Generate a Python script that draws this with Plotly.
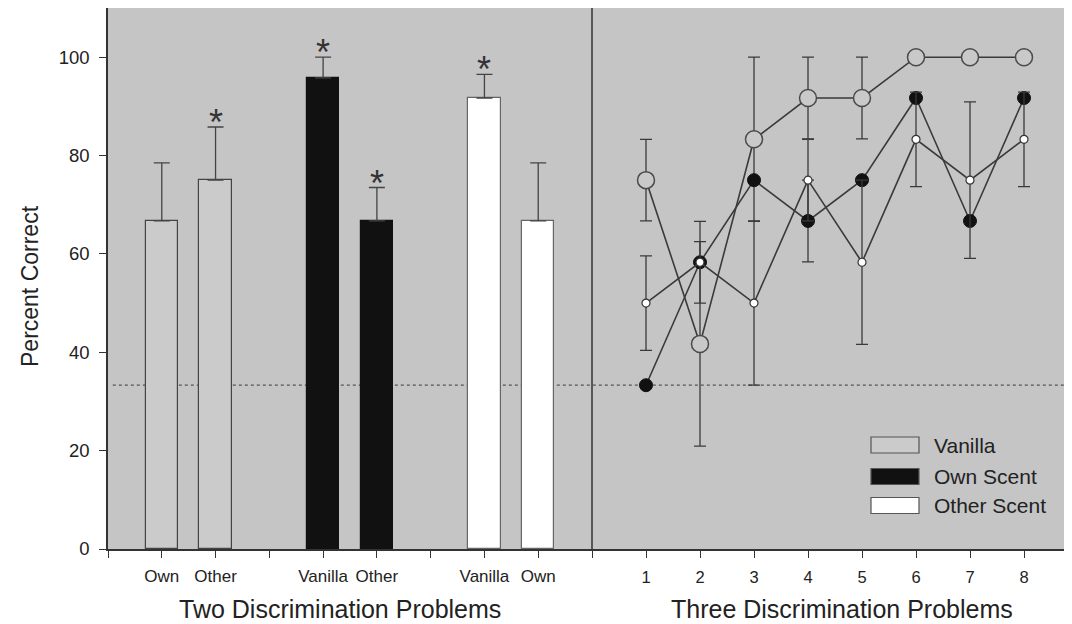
import plotly.graph_objects as go

# ---------------- data ----------------
# Left panel: two discrimination problems (bars)
bar_pos = [1, 2, 4, 5, 7, 8]
bar_labels = ["Own", "Other", "Vanilla", "Other", "Vanilla", "Own"]
bar_group = ["Vanilla", "Vanilla", "Own Scent", "Own Scent", "Other Scent", "Other Scent"]
bar_values = [66.7, 75.0, 95.8, 66.7, 91.7, 66.7]
bar_errors = [11.8, 10.8, 4.2, 6.8, 4.8, 11.8]
bar_signif = [False, True, True, True, True, False]

# Right panel: three discrimination problems (lines)
sessions = [1, 2, 3, 4, 5, 6, 7, 8]
vanilla = [75.0, 41.7, 83.3, 91.7, 91.7, 100.0, 100.0, 100.0]
vanilla_err = [8.3, 20.8, 16.7, 8.3, 8.3, None, None, None]
own_scent = [33.3, 58.3, 75.0, 66.7, 75.0, 91.7, 66.7, 91.7]
own_err = [None, None, None, 8.3, None, None, None, None]
other_scent = [50.0, 58.3, 50.0, 75.0, 58.3, 83.3, 75.0, 83.3]
other_err = [9.6, 8.3, 16.7, 8.3, 16.7, 9.6, 15.9, 9.6]

chance = 33.3
y_ticks = [0, 20, 40, 60, 80, 100]

# ---------------- styles ----------------
BG = "#c5c5c5"
INK = "#222222"
LINE = "#3a3a3a"
fill_map = {"Vanilla": "#cbcbcb", "Own Scent": "#111111", "Other Scent": "#ffffff"}
edge_map = {"Vanilla": "#444444", "Own Scent": "#111111", "Other Scent": "#666666"}
FONT = "Liberation Sans, Arial, sans-serif"

# layout geometry (page body adds an 8px offset)
PLOT_H = 541.0
def py(win_y):
    return (549 - win_y) / PLOT_H
def px(win_x):
    return (win_x - 108) / 964.0

fig = go.Figure()

# bars
fig.add_trace(go.Bar(
    x=bar_pos, y=bar_values, width=0.6,
    marker=dict(color=[fill_map[g] for g in bar_group],
                line=dict(color=[edge_map[g] for g in bar_group], width=1.2)),
    error_y=dict(type="data", array=bar_errors, symmetric=False,
                 arrayminus=[0] * len(bar_errors), color="#444444",
                 thickness=1.3, width=8),
    xaxis="x", yaxis="y", showlegend=False, hoverinfo="skip",
))

# significance stars
for p, v, e, s in zip(bar_pos, bar_values, bar_errors, bar_signif):
    if s:
        fig.add_annotation(x=p, y=v + e, xref="x", yref="y", text="*",
                           showarrow=False, yanchor="bottom", yshift=-18,
                           font=dict(size=36, color="#333333", family=FONT))

# lines
fig.add_trace(go.Scatter(
    x=sessions, y=vanilla, mode="lines+markers", xaxis="x2", yaxis="y",
    line=dict(color=LINE, width=1.6),
    marker=dict(size=17, color="#c9c9c9", line=dict(color="#4a4a4a", width=1.5)),
    error_y=dict(type="data", array=vanilla_err, color=LINE, thickness=1.3, width=6),
    showlegend=False, hoverinfo="skip"))
fig.add_trace(go.Scatter(
    x=sessions, y=own_scent, mode="lines+markers", xaxis="x2", yaxis="y",
    line=dict(color=LINE, width=1.6),
    marker=dict(size=13, color="#111111", line=dict(color="#111111", width=1)),
    error_y=dict(type="data", array=own_err, color=LINE, thickness=1.3, width=6),
    showlegend=False, hoverinfo="skip"))
fig.add_trace(go.Scatter(
    x=sessions, y=other_scent, mode="lines+markers", xaxis="x2", yaxis="y",
    line=dict(color=LINE, width=1.6),
    marker=dict(size=8, color="#ffffff", line=dict(color="#333333", width=1.2)),
    error_y=dict(type="data", array=other_err, color=LINE, thickness=1.3, width=6),
    showlegend=False, hoverinfo="skip"))

# chance line across both panels
fig.add_shape(type="line", xref="paper", yref="y", x0=0.005, x1=1, y0=chance, y1=chance,
              line=dict(color="#555555", width=1.2, dash="dot"), layer="below")

# panel divider
split = 484 / 964
fig.add_shape(type="line", xref="paper", yref="paper", x0=split, x1=split, y0=0, y1=1,
              line=dict(color="#333333", width=1.5))

# legend (drawn)
legend_items = ["Vanilla", "Own Scent", "Other Scent"]
leg_y = [py(445), py(476.5), py(505.5)]
half = 8 / PLOT_H
for name, yc in zip(legend_items, leg_y):
    fig.add_shape(type="rect", xref="paper", yref="paper",
                  x0=px(871), x1=px(919), y0=yc - half, y1=yc + half,
                  fillcolor=fill_map[name], line=dict(color="#555555", width=1.2))
    fig.add_annotation(x=px(932), y=yc, xref="paper", yref="paper", text=name,
                       showarrow=False, xanchor="left", yanchor="middle",
                       font=dict(size=21, color=INK, family=FONT))

# axis titles
fig.add_annotation(x=px(340), y=py(609), xref="paper", yref="paper",
                   text="Two Discrimination Problems", showarrow=False,
                   xanchor="center", yanchor="middle",
                   font=dict(size=25, color=INK, family=FONT))
fig.add_annotation(x=px(842), y=py(609), xref="paper", yref="paper",
                   text="Three Discrimination Problems", showarrow=False,
                   xanchor="center", yanchor="middle",
                   font=dict(size=25, color=INK, family=FONT))
fig.add_annotation(x=px(30), y=py(286), xref="paper", yref="paper",
                   text="Percent Correct", showarrow=False, textangle=-90,
                   xanchor="center", yanchor="middle",
                   font=dict(size=23, color=INK, family=FONT))

left_ticks = list(range(0, 10))
left_text = [bar_labels[bar_pos.index(t)] if t in bar_pos else "" for t in left_ticks]

fig.update_layout(
    width=1072, height=624,
    margin=dict(l=100, r=8, t=0, b=83, autoexpand=False),
    paper_bgcolor="white", plot_bgcolor=BG,
    font=dict(family=FONT, color=INK),
    bargap=0,
    xaxis=dict(domain=[0, split], range=[0, 9], tickmode="array",
               tickvals=left_ticks, ticktext=left_text,
               ticks="outside", ticklen=7, tickwidth=1.2, tickcolor="#333333",
               ticklabelstandoff=4, automargin=False,
               showline=True, linecolor="#333333", linewidth=1.5, mirror=True,
               showgrid=False, zeroline=False,
               tickfont=dict(size=17, color=INK), anchor="y"),
    xaxis2=dict(domain=[split, 1], range=[0, 480 / 54], tickmode="array",
                tickvals=[0] + sessions, ticktext=[""] + [str(s) for s in sessions],
                ticks="outside", ticklen=7, tickwidth=1.2, tickcolor="#333333",
                ticklabelstandoff=5, automargin=False,
                showline=True, linecolor="#333333", linewidth=1.5, mirror=True,
                showgrid=False, zeroline=False,
                tickfont=dict(size=16.5, color=INK), anchor="y"),
    yaxis=dict(range=[0, 110], tickmode="array", tickvals=y_ticks,
               ticks="outside", ticklen=7, tickwidth=1.2, tickcolor="#333333",
               ticklabelstandoff=6, automargin=False,
               showline=True, linecolor="#333333", linewidth=1.5,
               showgrid=False, zeroline=False,
               tickfont=dict(size=18.5, color=INK)),
)

fig.write_html("out.html")
